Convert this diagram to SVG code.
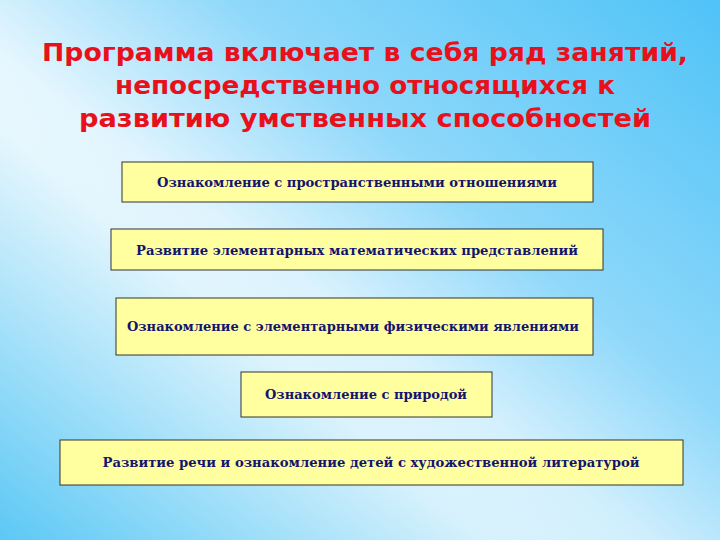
<svg xmlns="http://www.w3.org/2000/svg" width="720" height="540" viewBox="0 0 720 540">
<defs>
<linearGradient id="bg" x1="1" y1="0" x2="0.15" y2="0.75">
<stop offset="0" stop-color="#4fc3f7"/>
<stop offset="0.45" stop-color="#8fd8fa"/>
<stop offset="0.8" stop-color="#ffffff"/>
<stop offset="1" stop-color="#ffffff"/>
</linearGradient>
<linearGradient id="bg2" x1="0" y1="1" x2="0.45" y2="0.55">
<stop offset="0" stop-color="#5cc8f5"/>
<stop offset="1" stop-color="#5cc8f5" stop-opacity="0"/>
</linearGradient>
<style>
.box{fill:#ffffa0;stroke:#333;stroke-width:1}
.t{font-family:"DejaVu Serif Condensed","DejaVu Serif","Liberation Serif",serif;font-weight:bold;font-size:13px;fill:#14146e;text-anchor:middle}
.h{font-family:"DejaVu Sans Condensed","DejaVu Sans","Liberation Sans",sans-serif;font-weight:bold;font-size:25px;fill:#e8101a;text-anchor:middle}
</style>
</defs>
<rect width="720" height="540" fill="url(#bg)"/>
<rect width="720" height="540" fill="url(#bg2)"/>
<g id="title">
<text class="h" x="365" y="61" textLength="646" lengthAdjust="spacingAndGlyphs">Программа включает в себя ряд занятий,</text>
<text class="h" x="365" y="94" textLength="500" lengthAdjust="spacingAndGlyphs">непосредственно относящихся к</text>
<text class="h" x="365" y="127" textLength="572" lengthAdjust="spacingAndGlyphs">развитию умственных способностей</text>
</g>
<g id="connectors"/>
<g id="n1"><rect class="box" x="122" y="162" width="471" height="40"/><text class="t" x="357" y="187" textLength="400" lengthAdjust="spacingAndGlyphs">Ознакомление с пространственными отношениями</text></g>
<g id="n2"><rect class="box" x="111" y="229" width="492" height="41"/><text class="t" x="357" y="255" textLength="442" lengthAdjust="spacingAndGlyphs">Развитие элементарных математических представлений</text></g>
<g id="n3"><rect class="box" x="116" y="298" width="477" height="57"/><text class="t" x="353" y="331" textLength="452" lengthAdjust="spacingAndGlyphs">Ознакомление с элементарными физическими явлениями</text></g>
<g id="n4"><rect class="box" x="241" y="372" width="251" height="45"/><text class="t" x="366" y="399" textLength="202" lengthAdjust="spacingAndGlyphs">Ознакомление с природой</text></g>
<g id="n5"><rect class="box" x="60" y="440" width="623" height="45"/><text class="t" x="371" y="467" textLength="537" lengthAdjust="spacingAndGlyphs">Развитие речи и ознакомление детей с художественной литературой</text></g>
</svg>
